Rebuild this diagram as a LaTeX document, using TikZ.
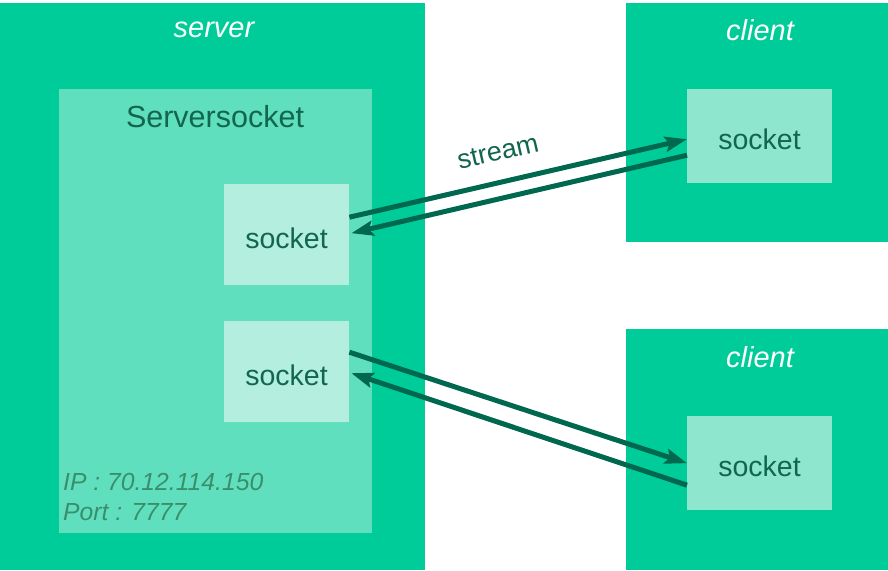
\documentclass[tikz,border=0pt]{standalone}
\usepackage{fontspec}
\setmainfont{Liberation Sans}
\usetikzlibrary{arrows.meta}
\definecolor{outerg}{HTML}{00CC99}
\definecolor{midg}{HTML}{60DFBF}
\definecolor{sockg}{HTML}{B3EEDF}
\definecolor{csockg}{HTML}{8FE6CE}
\definecolor{arrg}{HTML}{00684E}
\definecolor{txtg}{HTML}{12664F}
\definecolor{ipg}{HTML}{3A8F6B}
\tikzset{
  box/.style={fill=#1, draw=none, anchor=north west, inner sep=0pt},
  title/.style={text=white, font=\fontsize{29}{34}\selectfont\itshape},
  socktxt/.style={text=txtg, font=\fontsize{28.5}{32}\selectfont},
  conn/.style={draw=arrg, line width=5pt, -{Stealth[length=22pt,width=15pt,inset=4pt]}},
  iptxt/.style={text=ipg, font=\fontsize{24.7}{28}\selectfont\itshape, anchor=base west, inner sep=0pt}
}
\begin{document}
\begin{tikzpicture}[x=1pt,y=-1pt]
\useasboundingbox[fill=white] (0,0) rectangle (888,570);
% server
\node[box=outerg, minimum width=425pt, minimum height=567pt] (server) at (0,3) {};
\node[title] (servert) at (214,30) {server};
\node[box=midg, minimum width=313pt, minimum height=444pt] (ss) at (59,89) {};
\node[socktxt, font=\fontsize{30.5}{34}\selectfont] (sst) at (215,117) {Serversocket};
\node[box=sockg, minimum width=125pt, minimum height=101pt] (s1) at (224,184) {};
\node[socktxt] at (286.5,238) {socket};
\node[box=sockg, minimum width=125pt, minimum height=101pt] (s2) at (224,321) {};
\node[socktxt] at (286.5,375) {socket};
\node[iptxt] (ip) at (63,490) {IP : 70.12.114.150};
\node[iptxt] (port) at (63,520) {Port : 7777};
% clients
\node[box=outerg, minimum width=262pt, minimum height=239pt] (cl1) at (626,3) {};
\node[title] at (760,30) {client};
\node[box=csockg, minimum width=145pt, minimum height=94pt] (c1) at (687,89) {};
\node[socktxt] at (759.5,139) {socket};
\node[box=outerg, minimum width=262pt, minimum height=241pt] (cl2) at (626,329) {};
\node[title] at (760,357) {client};
\node[box=csockg, minimum width=145pt, minimum height=94pt] (c2) at (687,416) {};
\node[socktxt] at (759.5,466) {socket};
% arrows
\draw[conn] ([yshift=17.5pt]s1.east) -- ([yshift=-3pt]c1.west);
\draw[conn] ([yshift=-19pt]c1.west) -- ([xshift=2pt,yshift=1.5pt]s1.east);
\draw[conn] ([yshift=19.5pt]s2.east) -- ([yshift=0pt]c2.west);
\draw[conn] ([yshift=-22pt]c2.west) -- ([xshift=2pt,yshift=-1.5pt]s2.east);
\node[text=txtg, font=\fontsize{27}{30}\selectfont, rotate=13] (stream) at (498,152) {stream};
\end{tikzpicture}
\end{document}
